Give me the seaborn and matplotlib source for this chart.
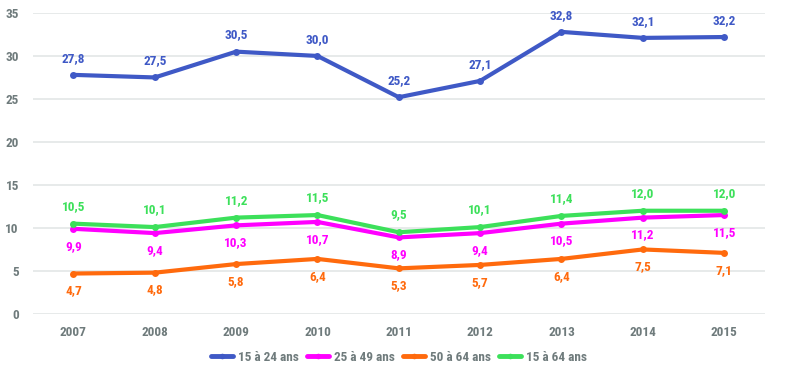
import seaborn as sns
import matplotlib.pyplot as plt
import pandas as pd

# Données (taux en %)
annees = ["2007", "2008", "2009", "2010", "2011", "2012", "2013", "2014", "2015"]
jeunes = [27.8, 27.5, 30.5, 30.0, 25.2, 27.1, 32.8, 32.1, 32.2]
adultes = [9.9, 9.4, 10.3, 10.7, 8.9, 9.4, 10.5, 11.2, 11.5]
seniors = [4.7, 4.8, 5.8, 6.4, 5.3, 5.7, 6.4, 7.5, 7.1]
ensemble = [10.5, 10.1, 11.2, 11.5, 9.5, 10.1, 11.4, 12.0, 12.0]

series = ["15 à 24 ans", "25 à 49 ans", "50 à 64 ans", "15 à 64 ans"]
valeurs = [jeunes, adultes, seniors, ensemble]
couleurs = ["#3F59C6", "#FF00FF", "#FF6A0D", "#3CE05A"]
decalage = [12, -12.5, -12.5, 12.5]  # étiquettes au-dessus / en dessous

df = pd.concat([pd.DataFrame({"annee": annees, "taux": v, "serie": s})
                for s, v in zip(series, valeurs)])

sns.set_style("white")
plt.rcParams["font.family"] = ["Roboto Condensed", "DejaVu Sans"]
plt.rcParams["font.weight"] = "bold"

fig, ax = plt.subplots(figsize=(8, 3.81), dpi=100)
fig.subplots_adjust(left=0.041, right=0.956, top=0.966, bottom=0.176)

sns.lineplot(data=df, x="annee", y="taux", hue="serie", palette=couleurs,
             marker="o", markersize=5, markeredgewidth=0, linewidth=3,
             sort=False, ax=ax)

for s, v, c, d in zip(series, valeurs, couleurs, decalage):
    for i, y in enumerate(v):
        ax.annotate(f"{y:.1f}".replace(".", ","), (i, y), xytext=(0, d),
                    textcoords="offset points", ha="center", va="center",
                    color=c, fontsize=9.5, fontweight="bold")

ax.set_xlim(-0.5, len(annees) - 0.5)
ax.set_ylim(0, 35)
ax.set_yticks(range(0, 36, 5))
ax.grid(axis="y", color="#E3E6E6", linewidth=1.2)
sns.despine(left=True, bottom=True)
ax.set_xlabel("")
ax.set_ylabel("")
ax.tick_params(axis="both", length=0, colors="#6F7B7C", labelsize=9.5)
ax.tick_params(axis="x", pad=9)
ax.tick_params(axis="y", pad=10)

leg = ax.legend(loc="center", bbox_to_anchor=(0.5, -0.145), ncol=4, frameon=False,
                fontsize=9.5, labelcolor="#6F7B7C", handlelength=1.7,
                handletextpad=0.35, columnspacing=0.6)
for h in leg.get_lines():
    h.set_linewidth(3.5)
    h.set_markersize(4)

fig.savefig("out.png", dpi=100)
